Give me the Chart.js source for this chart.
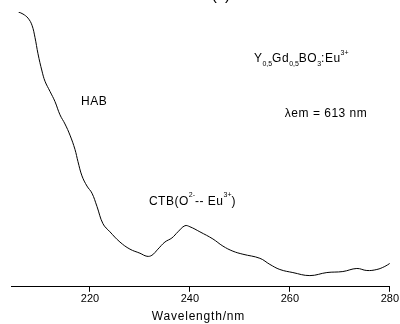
<!DOCTYPE html>
<html>
<head>
<meta charset="utf-8">
<script src="https://cdn.jsdelivr.net/npm/chart.js@4.4.1/dist/chart.umd.min.js"></script>
<style>
  html, body { margin: 0; padding: 0; background: #fff; }
  #wrap { width: 400px; height: 324px; position: relative; }
</style>
</head>
<body>
<div id="wrap"><canvas id="c" width="400" height="324"></canvas></div>
<script>
// Excitation spectrum (arbitrary intensity units)
const wavelengthNm = [205.7, 206.6, 207.6, 208.4, 209.0, 209.6, 210.4, 211.0, 212.0, 213.0,
  214.0, 215.0, 216.0, 217.0, 217.6, 218.4, 219.4, 220.4, 221.4, 222.6,
  224.0, 226.0, 228.0, 230.0, 231.4, 232.4, 233.6, 235.0, 236.4, 237.6,
  239.0, 240.0, 242.0, 244.6, 246.6, 248.6, 250.6, 254.0, 256.0, 258.0,
  260.6, 264.0, 267.4, 270.6, 273.4, 275.4, 277.4, 279.0, 280.0];
const intensity = [270, 268, 264, 257, 245, 229, 212, 202, 192, 182,
  169, 160, 149, 135, 123, 109, 99, 92, 79, 62,
  54, 44, 37, 33, 30, 31, 37, 44, 48, 54,
  60, 59, 54, 47, 40, 35, 32, 28, 22, 17,
  14, 11, 14, 15, 18, 16, 17, 20, 23];
const xTickValues = [220, 240, 260, 280];
const xAxisTitle = "Wavelength/nm";
const panelLabel = "(c)";

const FONT = "'Liberation Sans', Arial, Helvetica, sans-serif";

// Rich text annotations (anchored in data coordinates)
const annotations = [
  { x: 218.2, y: 182, parts: [{ t: "HAB" }] },
  { x: 252.8, y: 224, parts: [{ t: "Y" }, { t: "0,5", s: "sub" }, { t: "Gd" }, { t: "0,5", s: "sub" },
      { t: "BO" }, { t: "3", s: "sub" }, { t: ":Eu" }, { t: "3+", s: "sup" }] },
  { x: 259.0, y: 170, parts: [{ t: "\u03bbem = 613 nm" }] },
  { x: 231.8, y: 84, parts: [{ t: "CTB(O" }, { t: "2-", s: "sup" }, { t: "-- Eu" }, { t: "3+", s: "sup" }, { t: ")" }] }
];

function setSpacing(ctx, v) { if ('letterSpacing' in ctx) ctx.letterSpacing = v; }

function drawRich(ctx, x, y, parts) {
  let cx = x;
  ctx.textBaseline = 'middle';
  ctx.textAlign = 'left';
  for (const p of parts) {
    let dy = 0;
    if (p.s === 'sub') { ctx.font = "7px " + FONT; dy = 5; setSpacing(ctx, '0px'); }
    else if (p.s === 'sup') { ctx.font = "7px " + FONT; dy = -6; setSpacing(ctx, '0px'); }
    else { ctx.font = "12px " + FONT; setSpacing(ctx, '0.5px'); }
    ctx.fillText(p.t, cx, y + dy);
    cx += ctx.measureText(p.t).width;
  }
  setSpacing(ctx, '0px');
}

const textPlugin = {
  id: 'textPlugin',
  afterDraw(chart) {
    const ctx = chart.ctx;
    const xs = chart.scales.x, ys = chart.scales.y;
    ctx.save();
    ctx.fillStyle = '#000';
    for (const a of annotations) {
      drawRich(ctx, xs.getPixelForValue(a.x), ys.getPixelForValue(a.y), a.parts);
    }
    // axis title
    ctx.font = "12px " + FONT;
    setSpacing(ctx, '0.8px');
    ctx.textAlign = 'center';
    ctx.textBaseline = 'alphabetic';
    ctx.fillText(xAxisTitle, xs.getPixelForValue(241.7), 320);
    // panel label (cut off at top)
    setSpacing(ctx, '0px');
    ctx.font = "16px " + FONT;
    ctx.fillText(panelLabel, xs.getPixelForValue(246.2), 0);
    ctx.restore();
  }
};

new Chart(document.getElementById('c'), {
  type: 'line',
  data: {
    datasets: [{
      data: wavelengthNm.map((w, i) => ({ x: w, y: intensity[i] })),
      borderColor: '#000',
      borderWidth: 1,
      pointRadius: 0,
      tension: 0.4,
      fill: false
    }]
  },
  options: {
    responsive: false,
    animation: false,
    devicePixelRatio: 1,
    layout: { padding: { top: 12, left: 11, right: 3, bottom: 17 } },
    plugins: { legend: { display: false }, tooltip: { enabled: false }, title: { display: false } },
    scales: {
      x: {
        type: 'linear',
        min: 204.2,
        max: 280,
        afterBuildTicks: (scale) => { scale.ticks = xTickValues.map(v => ({ value: v })); },
        border: { display: true, color: '#000', width: 1 },
        grid: { drawOnChartArea: false, drawTicks: true, tickLength: 5, color: '#000' },
        ticks: { color: '#000', padding: 1, maxRotation: 0, font: { family: FONT, size: 11 } }
      },
      y: {
        display: false,
        min: 0,
        max: 270
      }
    }
  },
  plugins: [textPlugin]
});
</script>
</body>
</html>
